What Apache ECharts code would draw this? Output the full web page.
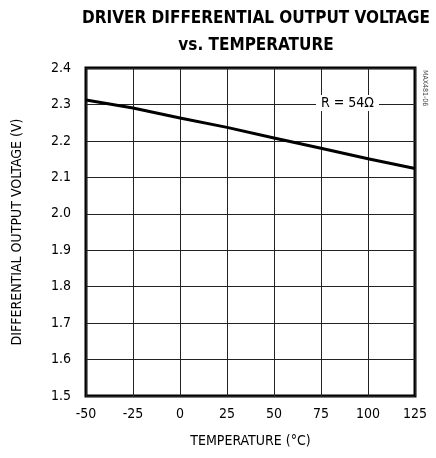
<!DOCTYPE html>
<html>
<head>
<meta charset="utf-8">
<script src="https://cdn.jsdelivr.net/npm/echarts@6/dist/echarts.min.js"></script>
<style>
  html, body { margin: 0; padding: 0; background: #fff; }
  #chart { width: 436px; height: 458px; }
</style>
</head>
<body>
<div id="chart"></div>
<script>
// driver differential output voltage vs temperature, R = 54 ohm
var temps = [-50, -25, 0, 25, 50, 75, 100, 125];
var volts = [2.312, 2.290, 2.263, 2.237, 2.208, 2.180, 2.151, 2.124];
var xTicks = [-50, -25, 0, 25, 50, 75, 100, 125];
var yTicks = [1.5, 1.6, 1.7, 1.8, 1.9, 2.0, 2.1, 2.2, 2.3, 2.4];

var narrow = '"Liberation Sans Narrow", "DejaVu Sans Condensed", "Roboto Condensed", sans-serif';

var chart = echarts.init(document.getElementById('chart'));
var option = {
    animation: false,
    title: {
        text: 'DRIVER DIFFERENTIAL OUTPUT VOLTAGE\nvs. TEMPERATURE',
        left: 251,
        top: 0,
        textAlign: 'center',
        textStyle: {
            fontFamily: narrow,
            fontWeight: 'bold',
            fontSize: 17,
            lineHeight: 27,
            color: '#000'
        }
    },
    grid: {
        left: 86,
        right: 21,
        top: 68,
        bottom: 62,
        show: true,
        borderColor: '#000',
        borderWidth: 3,
        backgroundColor: 'transparent'
    },
    xAxis: {
        type: 'value',
        min: -50,
        max: 125,
        interval: 25,
        name: 'TEMPERATURE (°C)',
        nameLocation: 'middle',
        nameGap: 38,
        nameTextStyle: { fontFamily: narrow, fontSize: 14, color: '#000' },
        axisLine: { show: false },
        axisTick: { show: false },
        axisLabel: { fontFamily: narrow, fontSize: 14, color: '#000', margin: 11 },
        splitLine: { show: true, lineStyle: { color: '#222', width: 1 } }
    },
    yAxis: {
        type: 'value',
        min: 1.5,
        max: 2.4,
        interval: 0.1,
        name: 'DIFFERENTIAL OUTPUT VOLTAGE (V)',
        nameLocation: 'middle',
        nameGap: 62,
        nameTextStyle: { fontFamily: narrow, fontSize: 14, color: '#000' },
        axisLine: { show: false },
        axisTick: { show: false },
        axisLabel: {
            fontFamily: narrow, fontSize: 14, color: '#000', margin: 15,
            formatter: function (v) { return v.toFixed(1); }
        },
        splitLine: { show: true, lineStyle: { color: '#222', width: 1 } }
    },
    graphic: [
        {
            type: 'text',
            left: 316,
            top: 95,
            z: 10,
            style: {
                text: 'R = 54Ω',
                fontFamily: narrow,
                fontSize: 14,
                fill: '#000',
                backgroundColor: '#fff',
                padding: [1, 5, 1, 5]
            }
        },
        {
            type: 'text',
            left: 421,
            top: 70,
            rotation: -Math.PI / 2,
            style: {
                text: 'MAX481-06',
                fontFamily: narrow,
                fontSize: 7,
                fill: '#444'
            }
        }
    ],
    series: [
        {
            type: 'line',
            data: temps.map(function (t, i) { return [t, volts[i]]; }),
            showSymbol: false,
            lineStyle: { color: '#000', width: 3 },
            z: 5
        }
    ]
};
chart.setOption(option);
</script>
</body>
</html>
